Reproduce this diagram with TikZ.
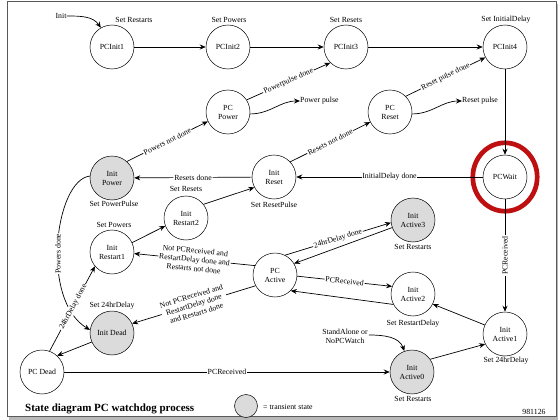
\documentclass[tikz,border=0pt]{standalone}
\usepackage{fontspec}
\setmainfont{Liberation Serif}
\usetikzlibrary{arrows.meta}
\newcommand\mylbl{\fontsize{7.8}{9}\selectfont}
\definecolor{redmark}{RGB}{190,16,16}
\begin{document}
\begin{tikzpicture}[x=1pt,y=-1pt,
  st/.style={circle,draw,line width=0.5pt,minimum size=44pt,inner sep=0pt,align=center,font=\mylbl},
  tr/.style={st,fill=black!14},
  ed/.style={-{Stealth[length=6pt,width=5pt]},line width=0.7pt},
  el/.style={fill=white,inner sep=0.8pt,font=\mylbl,sloped,align=center},
  tx/.style={inner sep=0pt,font=\mylbl,align=center}]
\useasboundingbox (0,0) rectangle (560,420);
% frame
\fill[black!28] (9,416) rectangle (558,420);
\fill[black!28] (556,4) rectangle (558,420);
\draw[black!65,line width=1pt] (7,2) rectangle (556,416);
% states
\node[st] (p1) at (112,47) {PCInit1};
\node[st] (p2) at (228,47) {PCInit2};
\node[st] (p3) at (346,47) {PCInit3};
\node[st] (p4) at (505,47) {PCInit4};
\node[st] (pcp) at (228,112) {PC\\Power};
\node[st] (pcr) at (390,112) {PC\\Reset};
\node[tr] (ipw) at (112,178) {Init\\Power};
\node[st] (irs) at (274,177) {Init\\Reset};
\node[st] (pw) at (505,177) {PCWait};
\node[st] (ir2) at (186,218) {Init\\Restart2};
\node[st] (ir1) at (112,252) {Init\\Restart1};
\node[tr] (ia3) at (413,220) {Init\\Active3};
\node[st] (pca) at (275,275) {PC\\Active};
\node[st] (ia2) at (413,294) {Init\\Active2};
\node[tr] (idd) at (112,333) {Init Dead};
\node[st] (ia1) at (505,334) {Init\\Active1};
\node[st] (pcd) at (42,372) {PC Dead};
\node[tr] (ia0) at (412,372) {Init\\Active0};
% highlight
\draw[redmark,line width=4.7pt] (pw.center) ellipse [x radius=32.2, y radius=34.2];
% state actions
\node[tx] (init) at (61,16) {Init};
\node[tx] (a1) at (134,20) {Set Restarts};
\node[tx] (a2) at (229,20) {Set Powers};
\node[tx] (a3) at (346,20) {Set Resets};
\node[tx] (a4) at (506,20) {Set InitialDelay};
\node[tx] (a5) at (114,204) {Set PowerPulse};
\node[tx] (a6) at (274,205) {Set ResetPulse};
\node[tx] (a7) at (186,189) {Set Resets};
\node[tx] (a8) at (114,225) {Set Powers};
\node[tx] (a9) at (112,306) {Set 24hrDelay};
\node[tx] (a10) at (413,247) {Set Restarts};
\node[tx] (a11) at (413,324) {Set RestartDelay};
\node[tx] (a12) at (506,361) {Set 24hrDelay};
\node[tx] (a13) at (413,399) {Set Restarts};
\node[tx,anchor=west] (ppl) at (300,101) {Power pulse};
\node[tx,anchor=west] (rpl) at (462,101) {Reset pulse};
\node[tx,font=\mylbl,align=center] (sa) at (345,336) {StandAlone or\\NoPCWatch};
% transitions
\draw[ed] (init.east) to[out=0,in=125] (p1.120);
\draw[ed] (p1) -- (p2);
\draw[ed] (p2) -- (p3);
\draw[ed] (p3) -- (p4);
\draw[ed] (p4) -- (pw);
\draw[ed] (pcp.33) -- node[el] {Powerpulse done} (p3.225);
\draw[ed] (pcr.45) -- node[el] {Reset pulse done} (p4.208);
\draw[ed] (pcp.-5) to[out=0,in=180] (ppl.west);
\draw[ed] (pcr.-5) to[out=0,in=180] (rpl.west);
\draw[ed] (ipw.48) -- node[el] {Powers not done} (pcp.205);
\draw[ed] (irs.43) -- node[el] {Resets not done} (pcr.207);
\draw[ed] (irs) -- node[el] {Resets done} (ipw);
\draw[ed] (pw) -- node[el] {InitialDelay done} (irs);
\draw[ed] (ir2.38) -- (irs.208);
\draw[ed] (ir1.25) -- (ir2.201);
\draw[ed] (ipw.175) .. controls (55,180) and (40,300) .. node[el,pos=0.55,sloped=false,rotate=90] {Powers done} (idd.172);
\draw[ed] (pcd.70) -- node[el,pos=0.52] {24hrDelay done} (ir1.220);
\draw[ed] (idd.204) -- (pcd.47);
\draw[ed] (pca.155) -- node[el] {Not PCReceived and\\RestartDelay done and\\Restarts not done} (ir1.356);
\draw[ed] (pca.209) -- node[el] {Not PCReceived and\\RestartDelay done\\and Restarts done} (idd.25);
\draw[ed] (pca.63) -- node[el] {24hrDelay done} (ia3.187);
\draw[ed] (ia3.200) -- (pca.31);
\draw[ed] (pca.-3) -- node[el] {PCReceived} (ia2.160);
\draw[ed] (ia2.208) -- (pca.-45);
\draw[ed] (ia1.156) -- (ia2.-27);
\draw[ed] (pw) -- node[el,sloped=false,rotate=90] {PCReceived} (ia1);
\draw[ed] (pcd) -- node[el] {PCReceived} (ia0);
\draw[ed] (ia0.35) -- (ia1.207);
\draw[ed] (sa.east) ++(1,-1) to[out=0,in=110] (ia0.110);
% footer
\node[inner sep=0pt,anchor=west,font=\fontsize{11}{12}\selectfont\bfseries] (title) at (25,409) {State diagram PC watchdog process};
\node[circle,draw,line width=0.5pt,fill=black!14,minimum size=23pt,inner sep=0pt] (leg) at (246,406) {};
\node[tx,anchor=west] (legt) at (263,407) {= transient state};
\node[tx] (date) at (534,412) {981126};
\end{tikzpicture}
\end{document}
